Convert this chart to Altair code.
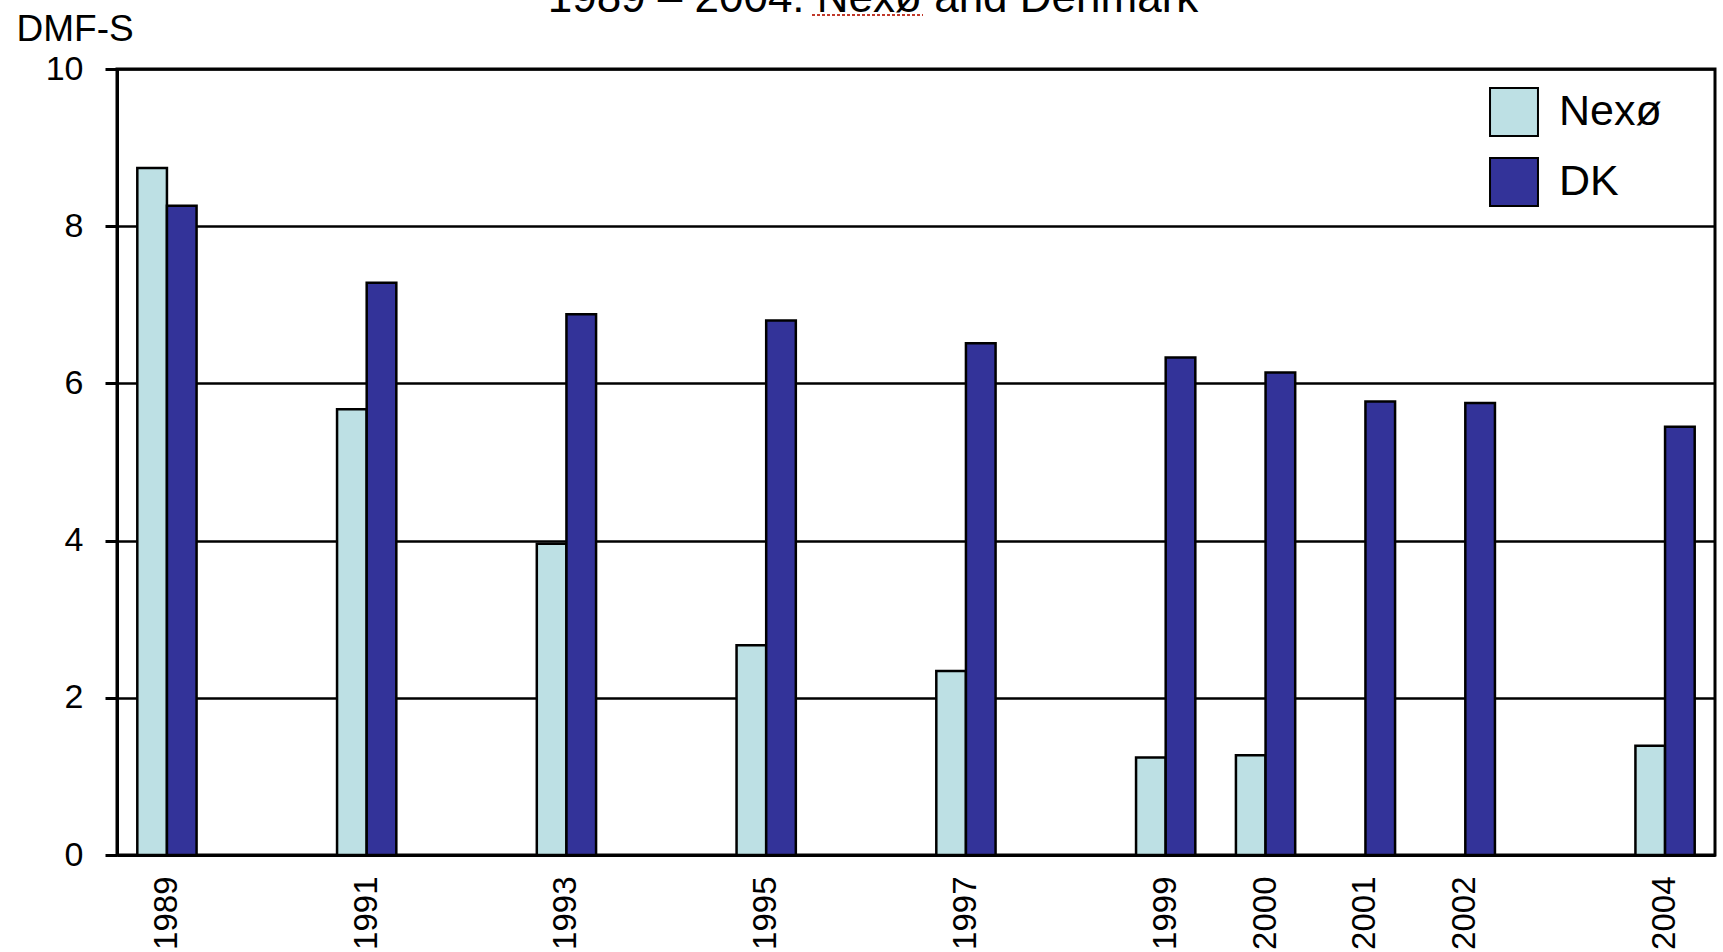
import altair as alt
import pandas as pd

# DMF-S per year for Nexø and for Denmark as a whole
years = ["1989", "1991", "1993", "1995", "1997", "1999", "2000", "2001", "2002", "2004"]
nexo = [8.74, 5.67, 3.96, 2.67, 2.34, 1.24, 1.27, None, None, 1.39]
dk = [8.26, 7.28, 6.88, 6.80, 6.51, 6.33, 6.14, 5.77, 5.75, 5.45]

# the x axis spans every calendar year so the gaps stay proportional
all_years = ["1989", "1990", "1991", "1992", "1993", "1994", "1995", "1996",
             "1997", "1998", "1999", "2000", "2001", "2002", "2003", "2004"]
series = ["Nexø", "DK"]
colors = ["#bde0e4", "#333399"]
title_text = "1989 – 2004: Nexø and Denmark"

rows = []
for y, a, b in zip(years, nexo, dk):
    if a is not None:
        rows.append({"year": y, "series": "Nexø", "value": a})
    if b is not None:
        rows.append({"year": y, "series": "DK", "value": b})
df = pd.DataFrame(rows)

W, H = 1598, 786
FONT = "Liberation Sans"

bars = alt.Chart(df).mark_bar(stroke="black", strokeWidth=2.5).encode(
    x=alt.X(
        "year:O",
        scale=alt.Scale(domain=all_years, paddingInner=0, paddingOuter=0),
        axis=alt.Axis(
            values=years, title=None, labelAngle=-90, ticks=False,
            labelPadding=21, labelFontSize=33, labelColor="black",
            domainColor="black", domainWidth=3, grid=False,
        ),
    ),
    xOffset=alt.XOffset(
        "series:N",
        scale=alt.Scale(domain=series, paddingOuter=0.685, paddingInner=0),
    ),
    y=alt.Y(
        "value:Q",
        scale=alt.Scale(domain=[0, 10], nice=False),
        axis=alt.Axis(
            values=[0, 2, 4, 6, 8, 10], title="DMF-S", titleAngle=0,
            titleAlign="left", titleBaseline="alphabetic",
            titleX=-101, titleY=-29, titleFontSize=37,
            titleFontWeight="normal", titleColor="black",
            labelFontSize=34, labelColor="black", labelPadding=22,
            tickSize=12, tickWidth=3, tickColor="black",
            domainColor="black", domainWidth=3,
            grid=True, gridColor="black", gridWidth=2.5, gridOpacity=1,
        ),
    ),
    color=alt.Color(
        "series:N",
        scale=alt.Scale(domain=series, range=colors),
        legend=alt.Legend(
            title=None, orient="none", legendX=1372, legendY=18,
            symbolType="square", symbolSize=2300, symbolStrokeColor="black",
            symbolStrokeWidth=2, symbolOpacity=1, labelFontSize=43,
            labelColor="black", labelOffset=20, rowPadding=14, padding=0,
        ),
    ),
)

title = alt.Chart(pd.DataFrame({"t": [title_text]})).mark_text(
    fontSize=44, font=FONT, color="black", align="center", baseline="alphabetic"
).encode(text="t:N", x=alt.value(756), y=alt.value(-57))

# spell-check style underline beneath "Nexø" in the heading
squiggle = alt.Chart(pd.DataFrame({"t": [0]})).mark_rule(
    color="#c0392b", strokeWidth=2, strokeDash=[3, 2]
).encode(x=alt.value(695), x2=alt.value(806), y=alt.value(-54))

chart = alt.layer(bars, title, squiggle).properties(
    width=W, height=H,
    autosize=alt.AutoSizeParams(type="none"),
    padding={"left": 117, "top": 69, "right": 8, "bottom": 97},
    background="white",
).configure(font=FONT).configure_view(stroke="black", strokeWidth=3)

chart.save("out.html", embed_options={"renderer": "svg", "actions": False})
